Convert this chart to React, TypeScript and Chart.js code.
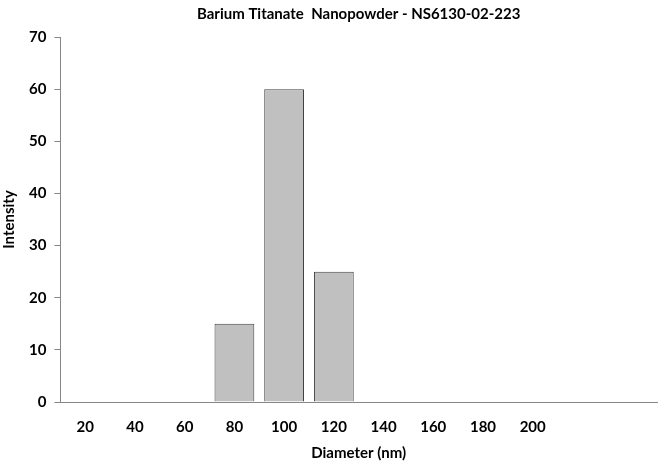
import { useEffect, useRef } from "react"
import { Chart, registerables, type ChartConfiguration, type Plugin } from "chart.js"

Chart.register(...registerables)

// diameter bins (nm); the last two bins are unlabelled in the original
const diameters = ["20", "40", "60", "80", "100", "120", "140", "160", "180", "200", "", ""]
const intensity = [0, 0, 0, 15, 60, 25, 0, 0, 0, 0, 0, 0]
const chartTitle = "Barium Titanate  Nanopowder - NS6130-02-223"

const FONT = "Lato, 'Open Sans', sans-serif"

// title centred over the plot area rather than the whole canvas
const plotTitle: Plugin = {
  id: "plotTitle",
  afterDraw(chart) {
    const { ctx, chartArea } = chart
    ctx.save()
    ctx.fillStyle = "#000"
    ctx.font = `bold 15px ${FONT}`
    ctx.textAlign = "center"
    ctx.textBaseline = "middle"
    ctx.fillText(chartTitle, (chartArea.left + chartArea.right) / 2, 14)
    ctx.restore()
  },
}

export default function App() {
  const chartRef = useRef<HTMLCanvasElement>(null)
  const chartInstance = useRef<Chart | null>(null)

  useEffect(() => {
    if (!chartRef.current) return
    const ctx = chartRef.current.getContext("2d")
    if (!ctx) return

    if (chartInstance.current) {
      chartInstance.current.destroy()
    }

    const config: ChartConfiguration = {
      type: "bar",
      data: {
        labels: diameters,
        datasets: [
          {
            label: "Intensity",
            data: intensity,
            backgroundColor: "#c0c0c0",
            borderColor: "#404040",
            borderWidth: 1,
            barPercentage: 0.8,
            categoryPercentage: 1,
          },
        ],
      },
      options: {
        animation: false,
        responsive: false,
        layout: { padding: { left: 0, right: 3, top: 37, bottom: 0 } },
        scales: {
          x: {
            grid: { display: false, drawTicks: false },
            border: { display: true, color: "#868686", width: 1 },
            ticks: {
              color: "#000",
              padding: 16,
              font: { family: FONT, size: 15, weight: "bold" },
              maxRotation: 0,
              autoSkip: false,
            },
            title: {
              display: true,
              text: "Diameter (nm)",
              color: "#000",
              font: { family: FONT, size: 15, weight: "bold" },
              padding: { top: -8, bottom: 0 },
            },
          },
          y: {
            min: 0,
            max: 70,
            ticks: {
              stepSize: 10,
              color: "#000",
              padding: 8,
              font: { family: FONT, size: 15, weight: "bold" },
            },
            grid: {
              drawOnChartArea: false,
              drawTicks: true,
              tickLength: 6,
              color: "#868686",
            },
            border: { display: true, color: "#868686", width: 1 },
            title: {
              display: true,
              text: "Intensity",
              color: "#000",
              font: { family: FONT, size: 15, weight: "bold" },
              padding: { top: 0, bottom: 3 },
            },
          },
        },
        plugins: {
          legend: { display: false },
          tooltip: { enabled: false },
          title: { display: false },
        },
      },
      plugins: [plotTitle],
    }

    chartInstance.current = new Chart(ctx, config)

    return () => {
      if (chartInstance.current) {
        chartInstance.current.destroy()
        chartInstance.current = null
      }
    }
  }, [])

  return (
    <div style={{ position: "absolute", left: 0, top: 0, width: 660, height: 462, background: "#fff" }}>
      <canvas ref={chartRef} width={660} height={462} />
    </div>
  )
}
